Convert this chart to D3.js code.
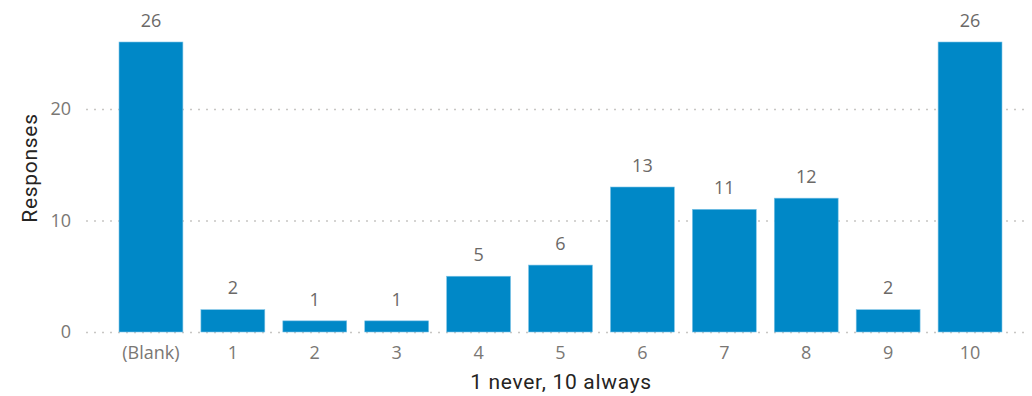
<!DOCTYPE html>
<html>
<head>
<meta charset="utf-8">
<script src="https://cdn.jsdelivr.net/npm/d3@7"></script>
<style>
  html, body { margin: 0; padding: 0; background: #fff; }
  svg { display: block; }
</style>
</head>
<body>
<svg id="chart"></svg>
<script>
// ── Data ─────────────────────────────────────────────
const categories = ['(Blank)', '1', '2', '3', '4', '5', '6', '7', '8', '9', '10'];
const responses  = [26, 2, 1, 1, 5, 6, 13, 11, 12, 2, 26];
const yTicks     = [0, 10, 20];

// ── Layout ───────────────────────────────────────────
const W = 1032, H = 396;
const plot = { left: 110, right: 1011, top: 42, bottom: 332 };

const svg = d3.select('#chart').attr('width', W).attr('height', H);

const x = d3.scaleBand()
  .domain(categories)
  .range([plot.left, plot.right])
  .paddingInner(0.22)
  .paddingOuter(0.11);

const y = d3.scaleLinear()
  .domain([0, 26])
  .range([plot.bottom, plot.top]);

const tickFont  = '"Open Sans", "Segoe UI", sans-serif';
const titleFont = 'Roboto, "DejaVu Sans", sans-serif';

// ── Gridlines ────────────────────────────────────────
svg.append('g')
  .selectAll('line')
  .data(yTicks)
  .join('line')
    .attr('x1', 86)
    .attr('x2', 1030)
    .attr('y1', d => y(d) + 0.5)
    .attr('y2', d => y(d) + 0.5)
    .attr('stroke', '#c8c6c4')
    .attr('stroke-width', 1.5)
    .attr('stroke-dasharray', '2 6');

// y tick labels
svg.append('g')
  .selectAll('text')
  .data(yTicks)
  .join('text')
    .attr('x', 71)
    .attr('y', d => y(d))
    .attr('dy', '0.35em')
    .attr('text-anchor', 'end')
    .attr('fill', '#7a7774')
    .attr('font-size', 18)
    .attr('font-family', tickFont)
    .text(d => d);

// ── Bars ─────────────────────────────────────────────
const data = categories.map((c, i) => ({ cat: c, val: responses[i] }));

svg.append('g')
  .selectAll('rect')
  .data(data)
  .join('rect')
    .attr('x', d => x(d.cat))
    .attr('y', d => y(d.val))
    .attr('width', x.bandwidth())
    .attr('height', d => y(0) - y(d.val))
    .attr('fill', '#0088c7')
    .attr('stroke', '#7cc3e6')
    .attr('stroke-width', 0.6);

// value labels
svg.append('g')
  .selectAll('text')
  .data(data)
  .join('text')
    .attr('x', d => x(d.cat) + x.bandwidth() / 2)
    .attr('y', d => y(d.val) - 21.5)
    .attr('dy', '0.35em')
    .attr('text-anchor', 'middle')
    .attr('fill', '#6b6967')
    .attr('font-size', 18)
    .attr('font-family', tickFont)
    .text(d => d.val);

// x tick labels
svg.append('g')
  .selectAll('text')
  .data(categories)
  .join('text')
    .attr('x', d => x(d) + x.bandwidth() / 2)
    .attr('y', 353)
    .attr('dy', '0.35em')
    .attr('text-anchor', 'middle')
    .attr('fill', '#7a7774')
    .attr('font-size', 18)
    .attr('font-family', tickFont)
    .text(d => d);

// ── Axis titles ──────────────────────────────────────
svg.append('text')
  .attr('x', 561)
  .attr('y', 382)
  .attr('dy', '0.35em')
  .attr('text-anchor', 'middle')
  .attr('fill', '#252423')
  .attr('font-size', 21)
  .attr('letter-spacing', 0.7)
  .attr('font-family', titleFont)
  .text('1 never, 10 always');

svg.append('text')
  .attr('transform', 'translate(30,168) rotate(-90)')
  .attr('dy', '0.35em')
  .attr('text-anchor', 'middle')
  .attr('fill', '#252423')
  .attr('font-size', 21)
  .attr('letter-spacing', 0.7)
  .attr('font-family', titleFont)
  .text('Responses');
</script>
</body>
</html>
